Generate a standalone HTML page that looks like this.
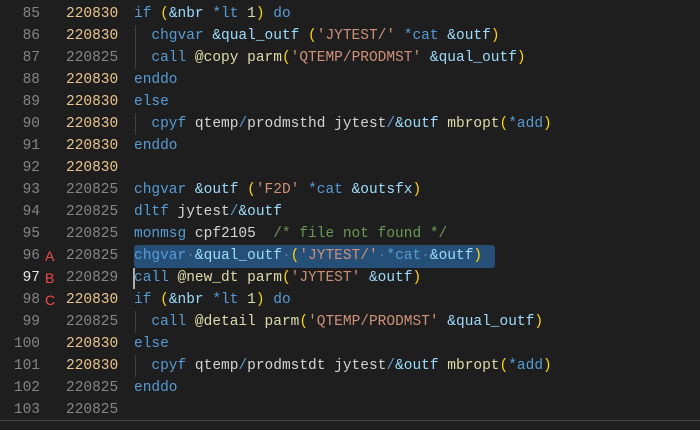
<!DOCTYPE html>
<html><head><meta charset="utf-8"><style>
html,body{margin:0;padding:0;background:#1e1e1e;width:700px;height:430px;overflow:hidden}
.ed{position:relative;width:700px;height:430px;font-family:"Liberation Mono",monospace;font-size:14.5px;}
.l{position:absolute;left:0;height:22px;line-height:22px;width:700px;white-space:pre}
.n{position:absolute;left:0;width:40px;text-align:right;color:#858585}
.m{position:absolute;left:45px;color:#f14c4c;font-family:"Liberation Sans",sans-serif;font-size:14px}
.d{position:absolute;left:66px;color:#858585}
.d.y{color:#e9c38b}
.c{position:absolute;left:134px;color:#d4d4d4}
.k{color:#569cd6}.v{color:#9cdcfe}.f{color:#dcdcaa}.s{color:#ce9178}.p{color:#ffd700}.g{color:#6a9955}
.ig{position:absolute;left:135px;width:1px;height:22px;background:#404040}
.sel{position:absolute;left:134px;top:245px;width:361px;height:23px;background:#264f78;border-radius:3px}
.cur{position:absolute;left:133px;top:268px;width:2px;height:21px;background:#aeafad}
.bot{position:absolute;left:0;top:420px;width:700px;height:1px;background:#444}
.dot{color:#5a7ea0}
</style></head><body><div class="ed">
<div class="sel"></div>
<div class="l" style="top:3px"><span class="n">85</span><span class="d y">220830</span><span class="c"><span class="k">if</span> <span class="p">(</span><span class="v">&amp;nbr</span> <span class="k">*lt</span> <span class="f">1</span><span class="p">)</span> <span class="k">do</span></span></div>
<div class="l" style="top:25px"><span class="n">86</span><span class="d y">220830</span><span class="ig"></span><span class="c">  <span class="k">chgvar</span> <span class="v">&amp;qual_outf</span> <span class="p">(</span><span class="s">'JYTEST/'</span> <span class="k">*cat</span> <span class="v">&amp;outf</span><span class="p">)</span></span></div>
<div class="l" style="top:47px"><span class="n">87</span><span class="d">220825</span><span class="ig"></span><span class="c">  <span class="k">call</span> <span class="f">@copy</span> <span class="f">parm</span><span class="p">(</span><span class="s">'QTEMP/PRODMST'</span> <span class="v">&amp;qual_outf</span><span class="p">)</span></span></div>
<div class="l" style="top:69px"><span class="n">88</span><span class="d y">220830</span><span class="c"><span class="k">enddo</span></span></div>
<div class="l" style="top:91px"><span class="n">89</span><span class="d y">220830</span><span class="c"><span class="k">else</span></span></div>
<div class="l" style="top:113px"><span class="n">90</span><span class="d y">220830</span><span class="ig"></span><span class="c">  <span class="k">cpyf</span> qtemp<span class="k">/</span>prodmsthd jytest<span class="k">/</span><span class="v">&amp;outf</span> <span class="f">mbropt</span><span class="p">(</span><span class="k">*add</span><span class="p">)</span></span></div>
<div class="l" style="top:135px"><span class="n">91</span><span class="d y">220830</span><span class="c"><span class="k">enddo</span></span></div>
<div class="l" style="top:157px"><span class="n">92</span><span class="d y">220830</span></div>
<div class="l" style="top:179px"><span class="n">93</span><span class="d">220825</span><span class="c"><span class="k">chgvar</span> <span class="v">&amp;outf</span> <span class="p">(</span><span class="s">'F2D'</span> <span class="k">*cat</span> <span class="v">&amp;outsfx</span><span class="p">)</span></span></div>
<div class="l" style="top:201px"><span class="n">94</span><span class="d">220825</span><span class="c"><span class="k">dltf</span> jytest<span class="k">/</span><span class="v">&amp;outf</span></span></div>
<div class="l" style="top:223px"><span class="n">95</span><span class="d">220825</span><span class="c"><span class="k">monmsg</span> cpf2105  <span class="g">/* file not found */</span></span></div>
<div class="l" style="top:245px"><span class="n">96</span><span class="m">A</span><span class="d">220825</span><span class="c"><span class="k">chgvar</span><span class="dot">·</span><span class="v">&amp;qual_outf</span><span class="dot">·</span><span class="p">(</span><span class="s">'JYTEST/'</span><span class="dot">·</span><span class="k">*cat</span><span class="dot">·</span><span class="v">&amp;outf</span><span class="p">)</span></span></div>
<div class="l" style="top:267px"><span class="n" style="color:#e6e6e6">97</span><span class="m">B</span><span class="d">220829</span><span class="c"><span class="k">call</span> <span class="f">@new_dt</span> <span class="f">parm</span><span class="p">(</span><span class="s">'JYTEST'</span> <span class="v">&amp;outf</span><span class="p">)</span></span></div>
<div class="l" style="top:289px"><span class="n">98</span><span class="m">C</span><span class="d y">220830</span><span class="c"><span class="k">if</span> <span class="p">(</span><span class="v">&amp;nbr</span> <span class="k">*lt</span> <span class="f">1</span><span class="p">)</span> <span class="k">do</span></span></div>
<div class="l" style="top:311px"><span class="n">99</span><span class="d">220825</span><span class="ig"></span><span class="c">  <span class="k">call</span> <span class="f">@detail</span> <span class="f">parm</span><span class="p">(</span><span class="s">'QTEMP/PRODMST'</span> <span class="v">&amp;qual_outf</span><span class="p">)</span></span></div>
<div class="l" style="top:333px"><span class="n">100</span><span class="d y">220830</span><span class="c"><span class="k">else</span></span></div>
<div class="l" style="top:355px"><span class="n">101</span><span class="d y">220830</span><span class="ig"></span><span class="c">  <span class="k">cpyf</span> qtemp<span class="k">/</span>prodmstdt jytest<span class="k">/</span><span class="v">&amp;outf</span> <span class="f">mbropt</span><span class="p">(</span><span class="k">*add</span><span class="p">)</span></span></div>
<div class="l" style="top:377px"><span class="n">102</span><span class="d">220825</span><span class="c"><span class="k">enddo</span></span></div>
<div class="l" style="top:399px"><span class="n">103</span><span class="d">220825</span></div>
<div class="cur"></div>
<div class="bot"></div>
</div></body></html>
